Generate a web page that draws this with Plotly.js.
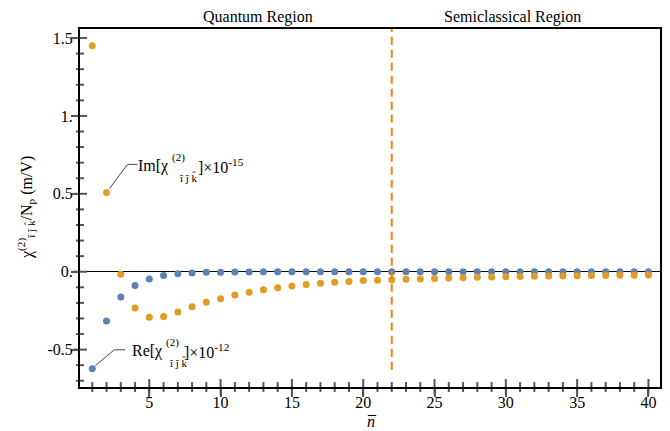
<!DOCTYPE html>
<html>
<head>
<meta charset="utf-8">
<script src="https://cdn.plot.ly/plotly-3.0.1.min.js"></script>
<style>html,body{margin:0;padding:0;background:#fff;}#chart{width:670px;height:431px;}</style>
</head>
<body>
<div id="chart"></div>
<script>
// ---- data ----
const nBar = [1,2,3,4,5,6,7,8,9,10,11,12,13,14,15,16,17,18,19,20,21,22,23,24,25,26,27,28,29,30,31,32,33,34,35,36,37,38,39,40];
const reChi = [-0.623,-0.316,-0.163,-0.088,-0.047,-0.025,-0.013,-0.008,-0.004,-0.003,
               -0.002,-0.002,-0.001,-0.001,-0.001,-0.001,-0.001,-0.001,-0.001,-0.001,
               -0.001,-0.001,-0.001,-0.001,-0.001,-0.001,-0.001,-0.001,-0.001,-0.001,
               -0.001,-0.001,-0.001,-0.001,-0.001,-0.001,-0.001,-0.001,-0.001,-0.001];
const imChi = [1.451,0.509,-0.017,-0.233,-0.292,-0.288,-0.258,-0.225,-0.196,-0.174,
               -0.150,-0.131,-0.116,-0.103,-0.091,-0.082,-0.074,-0.067,-0.062,-0.057,
               -0.054,-0.052,-0.049,-0.046,-0.043,-0.041,-0.038,-0.036,-0.034,-0.032,
               -0.031,-0.029,-0.028,-0.027,-0.026,-0.025,-0.024,-0.023,-0.022,-0.021];
const regionBoundary = 22;
const regionLabels = ["Quantum Region", "Semiclassical Region"];
// y tick labels as Plotly formats them -> as they appear in the chart
const yTickDefault = ["−0.5", "0", "1"];
const yTickText    = ["-0.5", "0.", "1."];
// tick mark positions (crossing tick marks, Mathematica style)
const xMajorTicks = [5,10,15,20,25,30,35,40];
const xMinorTicks = [1,2,3,4,6,7,8,9,11,12,13,14,16,17,18,19,21,22,23,24,26,27,28,29,31,32,33,34,36,37,38,39];
const yMajorTicks = [-0.5,0,0.5,1,1.5];
const yMinorTicks = [-0.7,-0.6,-0.4,-0.3,-0.2,-0.1,0.1,0.2,0.3,0.4,0.6,0.7,0.8,0.9,1.1,1.2,1.3,1.4];

// ---- style ----
const FONT = 'Liberation Serif';
const BLUE = '#5E81B5', ORANGE = '#E19C24', DASH = '#FF8000', TICK = '#555555';
const W = 670, H = 431, ML = 80, MR = 10, MT = 29, MB = 44;
const PW = W - ML - MR, PH = H - MT - MB;
const px = x => (x - ML) / PW;          // pixel -> paper
const py = y => (H - MB - y) / PH;

const xRange = [0.14, 40.81];
const yRange = [-0.740, 1.558];
const alias = {};
yTickDefault.forEach((d, i) => { alias[d] = yTickText[i]; });

function tickTrace(xs, ys, symbol, size) {
  return {x: xs, y: ys, type: 'scatter', mode: 'markers', cliponaxis: false, hoverinfo: 'skip',
    marker: {symbol: symbol, size: size, color: TICK, opacity: 1, line: {color: TICK, width: 2}}};
}

const traces = [
  tickTrace(xMajorTicks, xMajorTicks.map(() => yRange[0]), 'line-ns', 11.4),
  tickTrace(xMinorTicks, xMinorTicks.map(() => yRange[0]), 'line-ns', 7),
  tickTrace(yMajorTicks.map(() => xRange[0]), yMajorTicks, 'line-ew', 10),
  tickTrace(yMinorTicks.map(() => xRange[0]), yMinorTicks, 'line-ew', 5.7),
  {x: nBar, y: reChi, type: 'scatter', mode: 'markers', marker: {color: BLUE, size: 7}},
  {x: nBar, y: imChi, type: 'scatter', mode: 'markers', marker: {color: ORANGE, size: 7}}
];

const ann = [];
function txt(x, y, text, size, anchor, yanchor) {
  ann.push({xref: 'paper', yref: 'paper', x: px(x), y: py(y), text: text, showarrow: false,
    xanchor: anchor || 'left', yanchor: yanchor || 'middle', font: {family: FONT, size: size || 16, color: '#000'}});
}
// region labels
txt(258, 17, regionLabels[0], 16, 'center');
txt(512, 17, regionLabels[1], 16, 'center');
// Im label
txt(171, 166, 'Im[χ', 16, 'right');
txt(170, 157, '(2)', 11);
txt(177, 177, 'î ĵ k̂', 11);
txt(196, 166, ']×10<sup>-15</sup>');
// Re label
txt(165, 351, 'Re[χ', 16, 'right');
txt(164, 342, '(2)', 11);
txt(167, 362, 'î ĵ k̂', 11);
txt(182, 351, ']×10<sup>-12</sup>');
// x title (n with bar)
txt(371, 421, '<i>n</i>', 16, 'center');
txt(372, 412, '¯', 16, 'center', 'top');
// y title
ann.push({xref: 'paper', yref: 'paper', x: px(26), y: py(208), textangle: -90, showarrow: false,
  xanchor: 'center', yanchor: 'middle',
  text: 'χ<sup>(2)</sup><sub>î ĵ k̂</sub>/N<sub>p</sub> (m/V)',
  font: {family: FONT, size: 16, color: '#000'}});

const shapes = [
  {type: 'line', xref: 'x', yref: 'y', x0: regionBoundary, x1: regionBoundary, y0: -0.63, y1: yRange[1],
   line: {color: DASH, width: 2, dash: '8px,5px'}},
  {type: 'path', xref: 'x', yref: 'y', xsizemode: 'pixel', ysizemode: 'pixel',
   xanchor: nBar[1], yanchor: imChi[1], path: 'M 3 4 L 21 28 L 31 28',
   line: {color: '#444', width: 1}},
  {type: 'path', xref: 'x', yref: 'y', xsizemode: 'pixel', ysizemode: 'pixel',
   xanchor: nBar[0], yanchor: reChi[0], path: 'M 3 3 L 22 19 L 33 19',
   line: {color: '#444', width: 1}}
];

const layout = {
  width: W, height: H, margin: {l: ML, r: MR, t: MT, b: MB},
  showlegend: false,
  paper_bgcolor: '#ffffff', plot_bgcolor: '#ffffff',
  font: {family: FONT, size: 16, color: '#000'},
  xaxis: {
    range: xRange, showgrid: false, zeroline: false,
    tickmode: 'linear', tick0: 0, dtick: 5,
    ticks: 'outside', ticklen: 8, tickwidth: 2, tickcolor: TICK, ticklabelstandoff: -8,
    showline: true, linecolor: '#000', linewidth: 2, mirror: true,
    tickfont: {family: FONT, size: 16, color: '#000'}
  },
  yaxis: {
    range: yRange, showgrid: false,
    tickmode: 'linear', tick0: 0, dtick: 0.5, labelalias: alias,
    ticks: 'outside', ticklen: 7, tickwidth: 2, tickcolor: TICK, ticklabelstandoff: -5,
    showline: true, linecolor: '#000', linewidth: 2, mirror: true,
    zeroline: true, zerolinecolor: '#000', zerolinewidth: 1,
    tickfont: {family: FONT, size: 16, color: '#000'}
  },
  annotations: ann,
  shapes: shapes
};

Plotly.newPlot('chart', traces, layout, {displayModeBar: false, staticPlot: true});
</script>
</body>
</html>
